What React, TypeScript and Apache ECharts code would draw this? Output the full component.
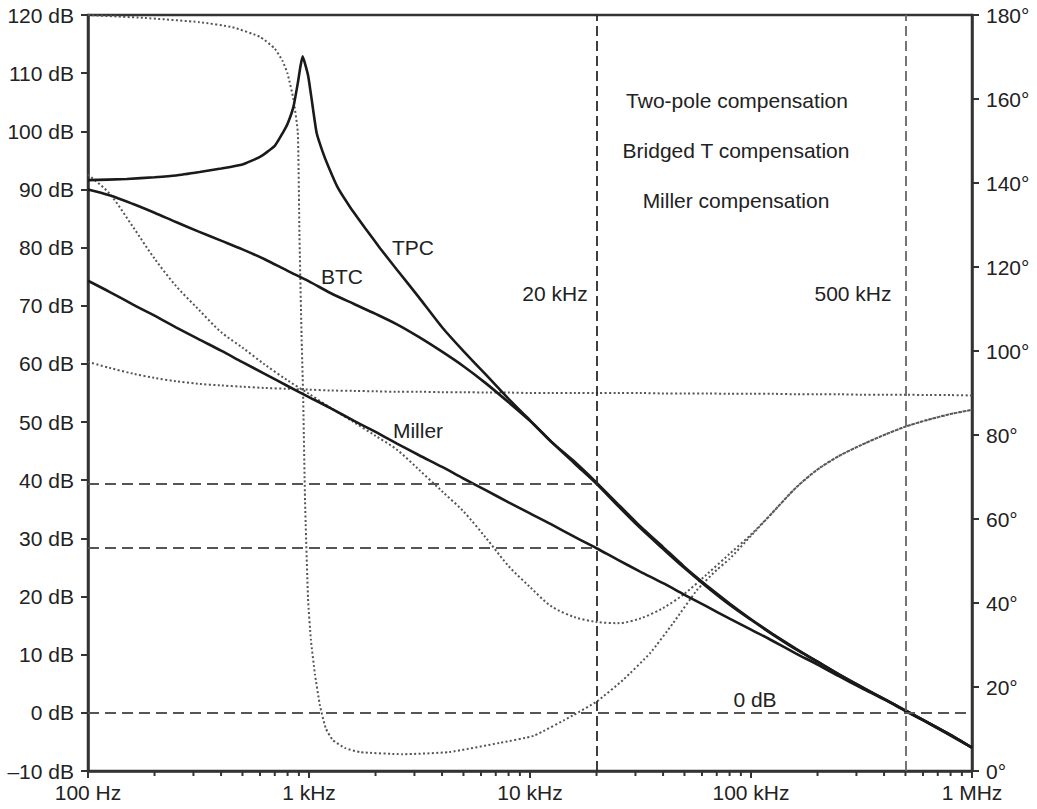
import React, { useEffect, useRef } from "react";
import * as echarts from "echarts";

// ---------- data ----------
const freqHz = [100, 125, 160, 200, 250, 315, 400, 500, 630, 800, 1000, 1250, 1600, 2000, 2500, 3150, 4000, 5000, 6300, 8000, 10000, 12500, 16000, 20000, 25000, 31500, 40000, 50000, 63000, 80000, 100000, 125000, 160000, 200000, 250000, 315000, 400000, 500000, 630000, 800000, 1000000];

const millerGainDb = [74.3, 72.4, 70.2, 68.3, 66.3, 64.3, 62.3, 60.3, 58.3, 56.2, 54.3, 52.4, 50.2, 48.3, 46.3, 44.3, 42.3, 40.3, 38.3, 36.2, 34.3, 32.4, 30.2, 28.3, 26.3, 24.3, 22.3, 20.3, 18.3, 16.2, 14.3, 12.4, 10.2, 8.3, 6.3, 4.3, 2.3, 0.3, -1.7, -3.9, -6.0];

const btcGainDb = [90.0, 89.0, 87.5, 86.0, 84.4, 82.8, 81.2, 79.7, 78.0, 76.0, 74.2, 72.2, 70.3, 68.6, 66.8, 64.6, 62.1, 59.6, 56.7, 53.4, 50.2, 46.6, 42.8, 39.4, 35.6, 31.8, 28.2, 24.9, 21.7, 18.6, 16.0, 13.5, 10.9, 8.8, 6.6, 4.5, 2.4, 0.4, -1.65, -3.8, -6.0];

const tpcGainFreqHz = [100, 150, 200, 250, 320, 400, 500, 600, 700, 760, 800, 850, 890, 915, 936, 960, 993, 1029, 1083, 1150, 1225, 1350, 1533, 1800, 2096, 2500, 3150, 4000, 5000, 6300, 8000, 10000, 12500, 16000, 20000, 25000, 31500, 40000, 50000, 63000, 80000, 100000, 125000, 160000, 200000, 250000, 315000, 400000, 500000, 630000, 800000, 1000000];
const tpcGainDb = [91.6, 91.8, 92.1, 92.4, 93.0, 93.6, 94.3, 95.6, 97.5, 99.7, 101.3, 104.2, 108.3, 111.2, 112.9, 111.6, 109.4, 105.4, 99.7, 96.6, 93.9, 90.3, 87.0, 83.3, 79.9, 76.2, 71.4, 66.3, 62.2, 58.2, 54.0, 50.3, 46.6, 43.1, 39.6, 35.9, 32.1, 28.5, 25.1, 21.9, 18.8, 16.1, 13.6, 11.0, 8.8, 6.6, 4.5, 2.4, 0.4, -1.65, -3.8, -6.0];

const millerPhaseDeg = [97.4, 96.0, 94.6, 93.6, 92.8, 92.2, 91.8, 91.5, 91.2, 91.0, 90.8, 90.6, 90.5, 90.4, 90.3, 90.3, 90.2, 90.2, 90.1, 90.1, 90.0, 90.0, 90.0, 90.0, 90.0, 90.0, 89.9, 89.9, 89.9, 89.8, 89.8, 89.8, 89.7, 89.7, 89.7, 89.6, 89.6, 89.6, 89.5, 89.5, 89.4];

const btcPhaseDeg = [142.0, 137.5, 129.5, 122.0, 115.5, 110.0, 104.5, 100.8, 96.8, 93.0, 89.8, 86.5, 83.0, 79.8, 76.5, 71.7, 66.6, 61.8, 55.6, 48.8, 43.8, 39.2, 36.6, 35.5, 35.2, 36.3, 38.8, 42.2, 46.8, 51.7, 56.3, 61.5, 67.5, 71.8, 75.0, 77.6, 80.0, 82.0, 83.6, 85.0, 86.0];

const tpcPhaseFreqHz = [100, 180, 320, 450, 600, 700, 760, 800, 850, 890, 905, 925, 940, 960, 990, 1020, 1065, 1120, 1190, 1280, 1450, 1700, 2650, 4300, 7300, 10400, 15700, 20000, 26400, 35000, 44400, 57000, 70000, 80000, 100000, 125000, 160000, 200000, 250000, 315000, 400000, 500000, 630000, 800000, 1000000];
const tpcPhaseDeg = [180.0, 179.3, 178.3, 177.1, 174.8, 172.0, 169.0, 166.0, 160.0, 152.0, 128.0, 104.0, 90.0, 64.0, 41.0, 31.2, 22.9, 15.7, 10.2, 7.4, 5.5, 4.5, 4.0, 4.5, 6.7, 8.4, 13.3, 16.5, 21.7, 28.1, 35.2, 43.1, 47.9, 50.5, 56.0, 61.5, 67.5, 71.8, 75.0, 77.6, 80.0, 82.0, 83.6, 85.0, 86.0];

const refGainDb = [39.4, 28.4];      // horizontal dashed levels ending at 20 kHz
const refFreqHz = [20000, 500000];   // vertical dashed lines
const zeroDb = 0;

const dbTicks = { min: -10, max: 120, step: 10 };
const degTicks = { min: 0, max: 180, step: 20 };
const freqRange = { min: 100, max: 1000000 };
const minorTickFreqHz = [200, 300, 400, 500, 600, 700, 800, 900, 2000, 3000, 4000, 5000, 6000, 7000, 8000, 9000, 20000, 30000, 40000, 50000, 60000, 70000, 80000, 90000, 200000, 300000, 400000, 500000, 600000, 700000, 800000, 900000];

const freqLabels: Record<number, string> = { 100: "100 Hz", 1000: "1 kHz", 10000: "10 kHz", 100000: "100 kHz", 1000000: "1 MHz" };

const FONT = '"Liberation Sans", Arial, Helvetica, sans-serif';

const zip = (xs: number[], ys: number[]) => xs.map((x, i) => [x, ys[i]]);

export default function App() {
  const ref = useRef<HTMLDivElement>(null);
  useEffect(() => {
    if (!ref.current) return;
    const chart = echarts.init(ref.current, undefined, { renderer: "svg" });
    const axisColor = "#333";
    const solid = { color: "#1a1a1a", width: 2.6 };
    const dotted = { color: "#555", width: 2, type: [2, 2.4] as any };
    const dashStyle = { color: "#555", width: 2, type: [11, 6] as any };
    const textEl = (text: string, x: number, y: number) => ({
      type: "text",
      x,
      y,
      silent: true,
      style: { text, fill: "#222", font: `21px ${FONT}`, textAlign: "center", textVerticalAlign: "middle" },
    });
    const labelStyle = { fontSize: 21, color: "#222", fontFamily: FONT };
    const line = (name: string, yAxisIndex: number, data: number[][], lineStyle: any, smooth: number | boolean) => ({
      name, type: "line", yAxisIndex, data, showSymbol: false, smooth, lineStyle, silent: true,
    });

    chart.setOption({
      animation: false,
      backgroundColor: "#fff",
      grid: { left: 88, right: 65, top: 15, bottom: 38, show: true, borderColor: axisColor, borderWidth: 2.5, backgroundColor: "transparent" },
      xAxis: {
        type: "log",
        logBase: 10,
        min: freqRange.min,
        max: freqRange.max,
        axisLine: { show: true, onZero: false, lineStyle: { color: axisColor, width: 2.5 } },
        axisTick: { show: true, length: 7, lineStyle: { color: axisColor, width: 2 } },
        axisLabel: { ...labelStyle, margin: 11, formatter: (v: number) => freqLabels[Math.round(v)] ?? "" },
        splitLine: { show: false },
        minorTick: { show: false },
      },
      yAxis: [
        {
          type: "value",
          position: "left",
          min: dbTicks.min,
          max: dbTicks.max,
          interval: dbTicks.step,
          axisLine: { show: true, onZero: false, lineStyle: { color: axisColor, width: 2.5 } },
          axisTick: { show: true, length: 7, lineStyle: { color: axisColor, width: 2 } },
          axisLabel: { ...labelStyle, margin: 14, formatter: (v: number) => (v < 0 ? "\u2013" + Math.abs(v) : String(v)) + " dB" },
          splitLine: { show: false },
        },
        {
          type: "value",
          position: "right",
          min: degTicks.min,
          max: degTicks.max,
          interval: degTicks.step,
          axisLine: { show: true, onZero: false, lineStyle: { color: axisColor, width: 2.5 } },
          axisTick: { show: true, length: 7, lineStyle: { color: axisColor, width: 2 } },
          axisLabel: { ...labelStyle, margin: 14, formatter: (v: number) => v + "\u00b0" },
          splitLine: { show: false },
        },
      ],
      series: [
        line("Miller phase", 1, zip(freqHz, millerPhaseDeg), dotted, 0.3),
        line("BTC phase", 1, zip(freqHz, btcPhaseDeg), dotted, 0.3),
        line("TPC phase", 1, zip(tpcPhaseFreqHz, tpcPhaseDeg), dotted, 0.15),
        {
          ...line("Miller", 0, zip(freqHz, millerGainDb), solid, 0.3),
          markLine: {
            silent: true,
            symbol: "none",
            label: { show: false },
            lineStyle: dashStyle,
            data: [
              ...refGainDb.map((g) => [{ coord: [freqRange.min, g] }, { coord: [refFreqHz[0], g] }]),
              [{ coord: [freqRange.min, zeroDb] }, { coord: [freqRange.max, zeroDb] }],
              ...refFreqHz.map((f, i) => [
                { coord: [f, dbTicks.min], lineStyle: { color: i === 0 ? "#2a2a2a" : "#666", width: 1.8, type: [10, 5] } },
                { coord: [f, dbTicks.max] },
              ]),
            ],
          },
        },
        line("BTC", 0, zip(freqHz, btcGainDb), solid, 0.3),
        line("TPC", 0, zip(tpcGainFreqHz, tpcGainDb), solid, 0.15),
        {
          name: "minor ticks", type: "custom", yAxisIndex: 0, clip: false, silent: true,
          data: minorTickFreqHz.map((f) => [f, dbTicks.min]),
          encode: { x: 0, y: 1 },
          renderItem: (_p: any, api: any) => {
            const pt = api.coord([api.value(0), api.value(1)]);
            return {
              type: "line",
              shape: { x1: pt[0], y1: pt[1], x2: pt[0], y2: pt[1] + 5 },
              style: { stroke: axisColor, lineWidth: 2 },
            };
          },
        },
      ],
      graphic: [
        textEl("Two-pole compensation", 737, 100),
        textEl("Bridged T compensation", 736, 150),
        textEl("Miller compensation", 736, 200),
        textEl("TPC", 413, 247),
        textEl("BTC", 342, 276),
        textEl("Miller", 418, 430),
        textEl("20 kHz", 555, 293),
        textEl("500 kHz", 853, 293),
        textEl("0 dB", 755, 699),
      ],
    });
    return () => chart.dispose();
  }, []);
  return <div ref={ref} style={{ position: "absolute", left: 0, top: 0, width: 1037, height: 809 }} />;
}
